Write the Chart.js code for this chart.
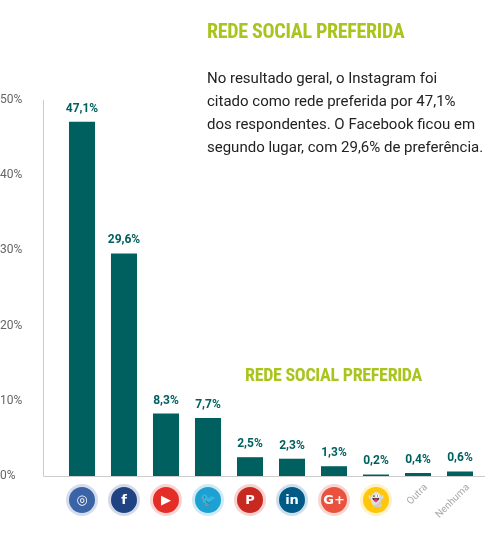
<!DOCTYPE html>
<html><head><meta charset="utf-8">
<script src="https://cdn.jsdelivr.net/npm/chart.js@4"></script>
<style>
  body { margin:0; background:#fff; font-family:Roboto, sans-serif; }
  #wrap { position:relative; width:498px; height:536px; }
  .ttl { position:absolute; color:#a9c41c; font-weight:bold; font-family:'Roboto Condensed','Liberation Sans Narrow',Roboto,sans-serif; font-size:20px; letter-spacing:-0.3px; }
  #txt { position:absolute; left:207px; top:67px; width:290px; font-size:15px; line-height:23px; color:#222; }
</style></head>
<body>
<div id="wrap">
  <canvas id="c" width="498" height="536"></canvas>
  <div class="ttl" style="left:207px;top:19px">REDE SOCIAL PREFERIDA</div>
  <div id="txt">No resultado geral, o Instagram foi<br>citado como rede preferida por 47,1%<br>dos respondentes. O Facebook ficou em<br>segundo lugar, com 29,6% de preferência.</div>
  <div class="ttl" style="left:245px;top:364px;font-size:18px">REDE SOCIAL PREFERIDA</div>
</div>
<script>
// ── Data ──────────────────────────────────────────────────────────────────────
const networks = ['Instagram', 'Facebook', 'YouTube', 'Twitter', 'Pinterest', 'LinkedIn', 'Google+', 'Snapchat', 'Outra', 'Nenhuma'];
const shares   = [47.1, 29.6, 8.3, 7.7, 2.5, 2.3, 1.3, 0.2, 0.4, 0.6];
const yTicks   = [0, 10, 20, 30, 40, 50];

const BAR_COLOR = '#00605f';
const icons = [
    { bg: '#3a64a6', halo: '#d5dded', t: '◎' },
    { bg: '#1f4283', halo: '#d3d9e6', t: 'f' },
    { bg: '#e52d27', halo: '#f9d3d1', t: '▶' },
    { bg: '#1da1d2', halo: '#d0eaf4', t: '🐦' },
    { bg: '#c7281f', halo: '#f6d1cf', t: 'P' },
    { bg: '#005a87', halo: '#cde0ea', t: 'in' },
    { bg: '#e8523f', halo: '#f9d6d1', t: 'G+' },
    { bg: '#ffc60b', halo: '#fff2c4', t: '👻' },
];

const fmt = v => v.toFixed(1).replace('.', ',') + '%';

const decor = {
    id: 'decor',
    afterDraw(chart) {
        const { ctx, chartArea: a, scales: { x, y } } = chart;
        ctx.save();
        // axis lines
        ctx.strokeStyle = '#ccc'; ctx.lineWidth = 1;
        ctx.beginPath();
        ctx.moveTo(43.5, y.getPixelForValue(50)); ctx.lineTo(43.5, a.bottom + 0.5);
        ctx.lineTo(a.right + 4, a.bottom + 0.5); ctx.stroke();
        // value labels
        ctx.fillStyle = BAR_COLOR; ctx.font = 'bold 12px Roboto'; ctx.textAlign = 'center';
        shares.forEach((v, i) => ctx.fillText(fmt(v), x.getPixelForValue(i), y.getPixelForValue(v) - 10));
        // icons
        const cy = 500;
        icons.forEach((ic, i) => {
            const cx = x.getPixelForValue(i);
            ctx.fillStyle = ic.halo; ctx.beginPath(); ctx.arc(cx, cy, 16, 0, Math.PI * 2); ctx.fill();
            ctx.fillStyle = ic.bg; ctx.beginPath(); ctx.arc(cx, cy, 13, 0, Math.PI * 2); ctx.fill();
            ctx.fillStyle = '#fff'; ctx.font = 'bold 13px DejaVu Sans'; ctx.textBaseline = 'middle';
            ctx.fillText(ic.t, cx, cy + 1);
        });
        // text categories
        ctx.fillStyle = '#aaa'; ctx.font = '10px Roboto'; ctx.textAlign = 'right'; ctx.textBaseline = 'middle';
        [8, 9].forEach(i => {
            ctx.save();
            ctx.translate(x.getPixelForValue(i) + 8, 486);
            ctx.rotate(-Math.PI / 4);
            ctx.fillText(networks[i], 0, 0);
            ctx.restore();
        });
        ctx.restore();
    }
};

new Chart(document.getElementById('c'), {
    type: 'bar',
    data: { labels: networks, datasets: [{ data: shares, backgroundColor: BAR_COLOR, barPercentage: 0.62, categoryPercentage: 1 }] },
    options: {
        responsive: false, animation: false,
        layout: { padding: { top: 100, right: 17, bottom: 60, left: 0 } },
        plugins: { legend: { display: false }, tooltip: { enabled: false } },
        scales: {
            x: { display: false },
            y: {
                min: 0, max: 50,
                afterBuildTicks: s => { s.ticks = yTicks.map(v => ({ value: v })); },
                afterFit: s => { s.width = 61; },
                grid: { display: false }, border: { display: false },
                ticks: { color: '#666', font: { size: 12, family: 'Roboto' }, crossAlign: 'far', padding: 0, callback: v => v + '%' }
            }
        }
    },
    plugins: [decor]
});
</script>
</body></html>
